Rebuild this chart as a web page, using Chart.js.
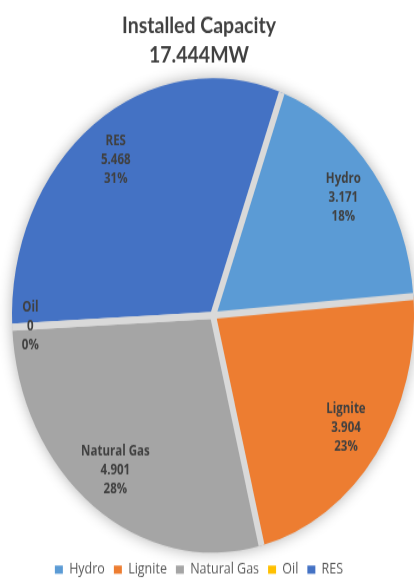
<!DOCTYPE html>
<html>
<head>
<meta charset="utf-8">
<script src="https://cdn.jsdelivr.net/npm/chart.js@4/dist/chart.umd.min.js"></script>
<style>
  html, body { margin: 0; padding: 0; background: #fff; overflow: hidden; width: 414px; height: 578px; }
  #wrap { width: 414px; height: 499px; transform: scaleY(1.18); transform-origin: 0 0; }
</style>
</head>
<body>
<div id="wrap"><canvas id="capacityChart" width="414" height="499"></canvas></div>
<script>
const sources = ['Hydro', 'Lignite', 'Natural Gas', 'Oil', 'RES'];
const capacity = [3.171, 3.904, 4.901, 0, 5.468];
const shares = ['18%', '23%', '28%', '0%', '31%'];
const colors = ['#5b9bd5', '#ed7d31', '#a5a5a5', '#ffc000', '#4472c4'];
const titleLines = ['Installed Capacity', '17.444MW'];

// soft grey halo behind the pie
const pieShadow = {
  id: 'pieShadow',
  beforeDatasetsDraw(chart) {
    const arc = chart.getDatasetMeta(0).data[0];
    if (!arc) return;
    const ctx = chart.ctx;
    ctx.save();
    ctx.shadowColor = 'rgba(0,0,0,0.3)';
    ctx.shadowBlur = 14;
    ctx.fillStyle = '#d9d9d9';
    ctx.beginPath();
    ctx.arc(arc.x, arc.y, arc.outerRadius, 0, Math.PI * 2);
    ctx.fill();
    ctx.restore();
  }
};

// grey radial gaps between slices (no outer ring)
const separators = {
  id: 'separators',
  afterDatasetsDraw(chart) {
    const ctx = chart.ctx;
    ctx.save();
    ctx.strokeStyle = '#d9d9d9';
    ctx.lineWidth = 6;
    chart.getDatasetMeta(0).data.forEach(arc => {
      ctx.beginPath();
      ctx.moveTo(arc.x, arc.y);
      ctx.lineTo(arc.x + Math.cos(arc.startAngle) * arc.outerRadius,
                 arc.y + Math.sin(arc.startAngle) * arc.outerRadius);
      ctx.stroke();
    });
    ctx.restore();
  }
};

const sliceLabels = {
  id: 'sliceLabels',
  afterDatasetsDraw(chart) {
    const ctx = chart.ctx;
    ctx.save();
    ctx.font = 'bold 11.5px "Open Sans"';
    ctx.fillStyle = '#404040';
    ctx.textAlign = 'center';
    ctx.textBaseline = 'middle';
    chart.getDatasetMeta(0).data.forEach((arc, i) => {
      const mid = (arc.startAngle + arc.endAngle) / 2;
      const r = arc.outerRadius * (capacity[i] === 0 ? 0.91 : 0.815);
      const x = arc.x + Math.cos(mid) * r;
      const y = arc.y + Math.sin(mid) * r;
      const val = capacity[i] === 0 ? '0' : capacity[i].toFixed(3);
      [sources[i], val, shares[i]].forEach((t, k) => {
        ctx.fillText(t, x, y + (k - 1) * 16);
      });
    });
    ctx.restore();
  }
};

// title and legend sit a bit left of the pie centre
const nudge = {
  id: 'nudge',
  afterLayout(chart) {
    [chart.titleBlock, chart.legend].forEach(b => {
      if (b) { b.left -= 14; b.right -= 14; }
    });
  }
};

new Chart(document.getElementById('capacityChart'), {
  type: 'pie',
  data: {
    labels: sources,
    datasets: [{
      data: capacity,
      backgroundColor: colors,
      borderColor: colors,
      borderWidth: 0,
      clip: false
    }]
  },
  options: {
    responsive: false,
    animation: false,
    events: [],
    rotation: 20,
    radius: 201,
    layout: { padding: { left: 12, right: 0, top: 0, bottom: 0 } },
    plugins: {
      tooltip: { enabled: false },
      title: {
        display: true,
        text: titleLines,
        color: '#404040',
        font: { family: 'Lato', weight: 'bold', size: 19.5, lineHeight: 1.29 },
        padding: { top: 9.4, bottom: 7.4 }
      },
      legend: {
        position: 'bottom',
        labels: {
          boxWidth: 8,
          boxHeight: 7,
          padding: 9,
          color: '#595959',
          font: { family: 'Open Sans', size: 12.5 }
        }
      }
    }
  },
  plugins: [pieShadow, separators, sliceLabels, nudge]
});
</script>
</body>
</html>
